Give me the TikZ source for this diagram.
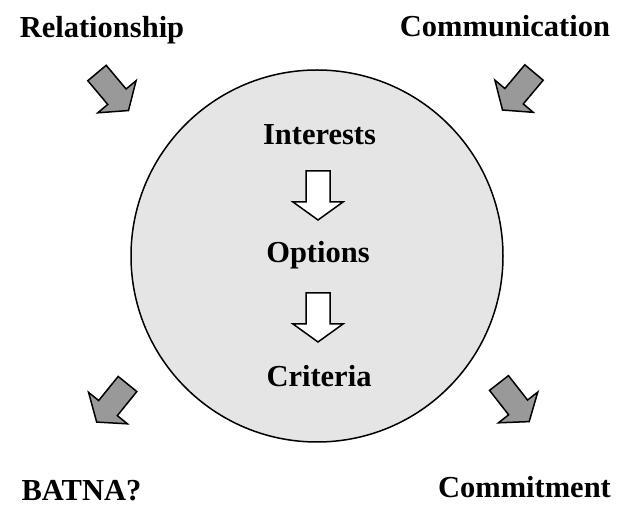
\documentclass[tikz,border=0pt]{standalone}
\usepackage{fontspec}
\setmainfont{Liberation Serif}
\begin{document}
\begin{tikzpicture}[x=1pt,y=1pt,
  label/.style={font=\fontsize{30.5}{34}\selectfont\bfseries, anchor=base, inner sep=0pt},
  ring/.style={draw=black, line width=1.5pt, fill=black!10},
  blockarrow/.pic={\draw[pic actions, line width=1.5pt, line join=miter]
      (0,12) -- (31,12) -- (31,25) -- (49,0) -- (31,-25) -- (31,-12) -- (0,-12) -- cycle;},
  outer/.style={fill=black!40},
  inner/.style={fill=white}]
\useasboundingbox (0,0) rectangle (622,509);

% central circle
\node[ring, circle, minimum size=372pt, inner sep=0pt] (core) at (317,253) {};

% corner labels
\node[label] (rel) at (102,471) {Relationship};
\node[label] (com) at (505,472) {Communication};
\node[label] (bat) at (81.5,8) {BATNA?};
\node[label] (cmt) at (524.5,11) {Commitment};

% stages inside the circle
\node[label] (int) at (319.5,364) {Interests};
\node[label] (opt) at (318,246) {Options};
\node[label] (cri) at (319,122) {Criteria};

% grey arrows at the corners
\pic[outer, rotate=-50]  (arTL) at (97,436)    {blockarrow};
\pic[outer, rotate=-130] (arTR) at (534,436.5) {blockarrow};
\pic[outer, rotate=-129] (arBL) at (127.5,125) {blockarrow};
\pic[outer, rotate=-52]  (arBR) at (499,126)   {blockarrow};

% white arrows between the stages
\pic[inner, rotate=-90] (arIO) at (318,338) {blockarrow};
\pic[inner, rotate=-90] (arOC) at (318,216) {blockarrow};
\end{tikzpicture}
\end{document}
